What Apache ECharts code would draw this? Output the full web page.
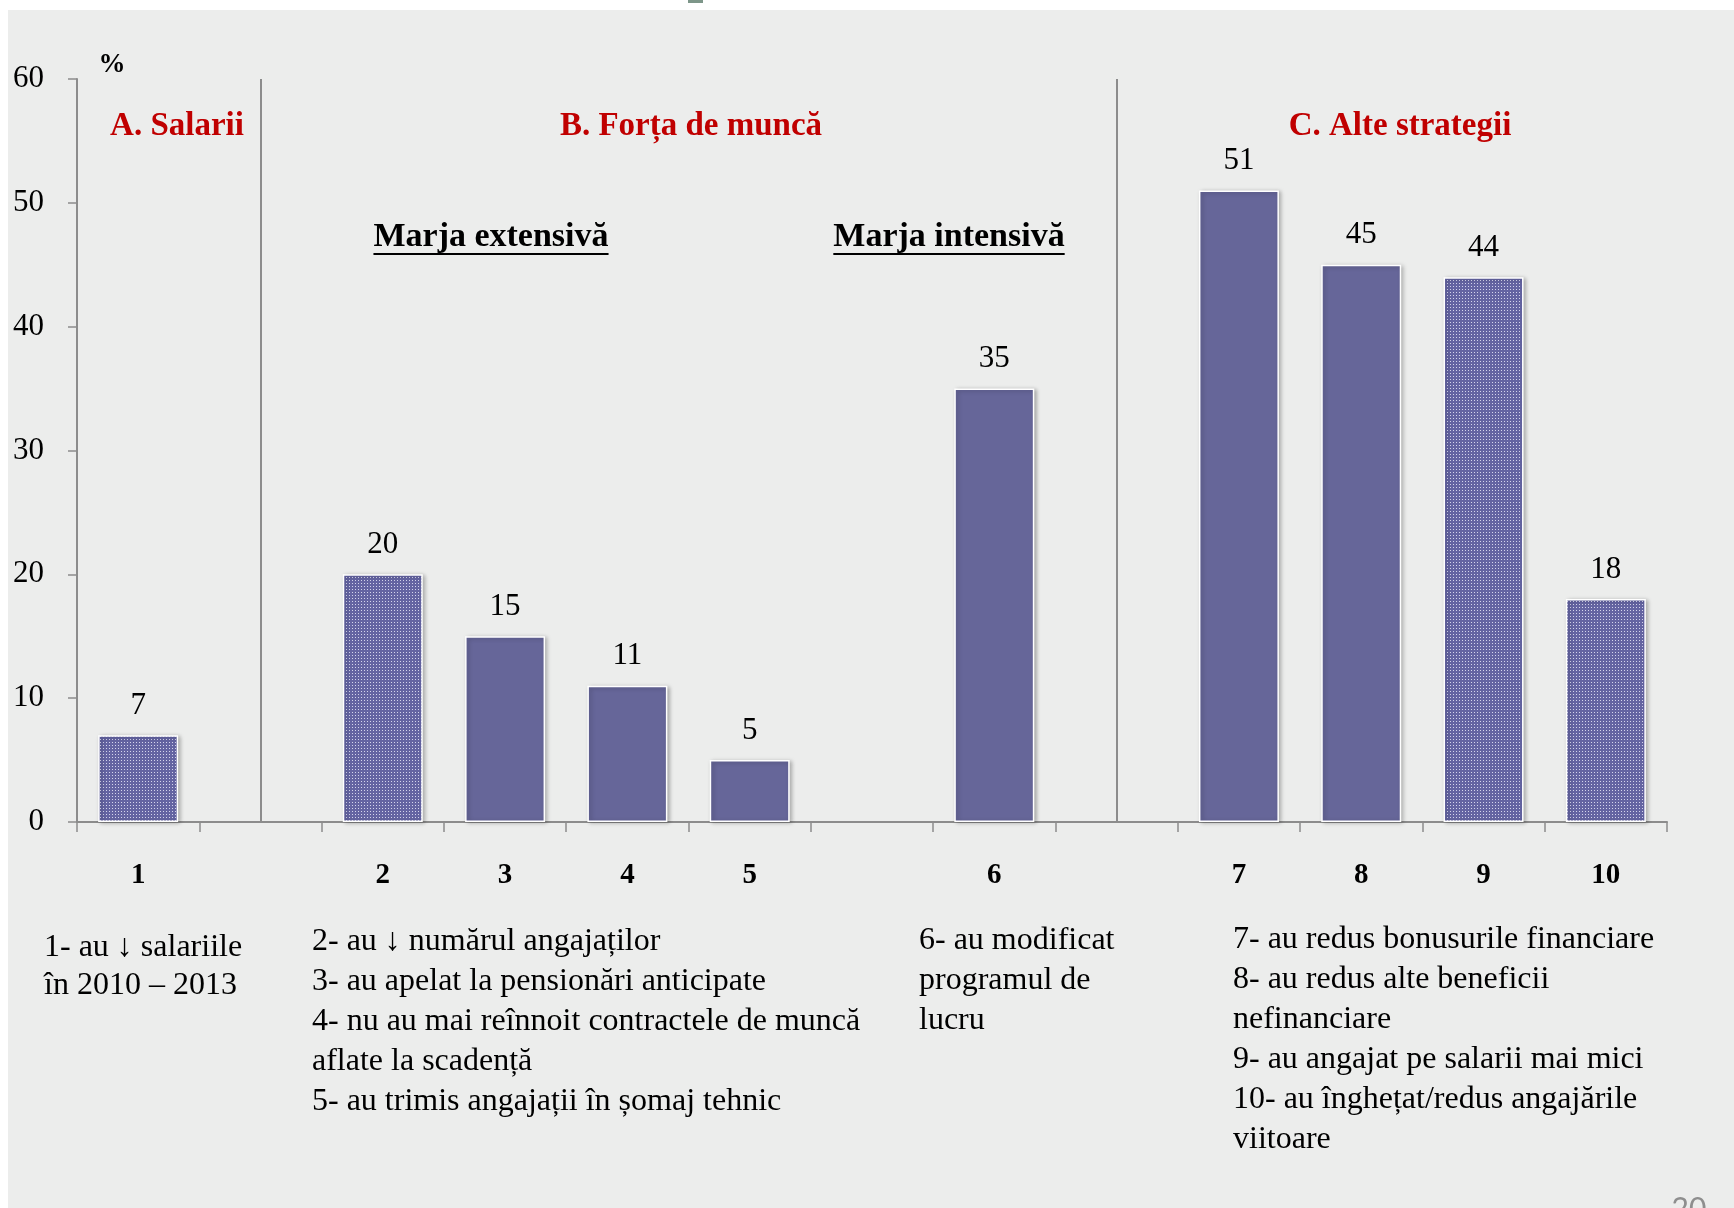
<!DOCTYPE html>
<html>
<head>
<meta charset="utf-8">
<script src="https://cdn.jsdelivr.net/npm/echarts@6/dist/echarts.min.js"></script>
<style>
  html, body { margin: 0; padding: 0; background: #ffffff; }
  #bg { position: absolute; left: 8px; top: 10px; right: 0; bottom: 0; background: #ECEDEC; }
  #chart { position: absolute; left: 0; top: 0; width: 1734px; height: 1208px; }
</style>
</head>
<body>
<div id="bg"></div>
<div id="chart"></div>
<script>
// Category slots along the x axis (empty slots separate the groups)
const categories = ['1', '', '2', '3', '4', '5', '', '6', '', '7', '8', '9', '10'];
// Share of firms (%) per strategy
const shares = [7, null, 20, 15, 11, 5, null, 35, null, 51, 45, 44, 18];
// Group headings
const sectionTitles = ['A. Salarii', 'B. Forța de muncă', 'C. Alte strategii'];
const marginTitles = ['Marja extensivă', 'Marja intensivă'];
// Legend notes, one list per column
const notesWages = ['1- au ↓ salariile', 'în 2010 – 2013'];
const notesExtensive = [
  '2- au ↓ numărul angajaților',
  '3- au apelat la pensionări anticipate',
  '4- nu au mai reînnoit contractele de muncă',
  'aflate la scadență',
  '5- au trimis angajații în șomaj tehnic'
];
const notesIntensive = ['6- au modificat', 'programul de', 'lucru'];
const notesOther = [
  '7- au redus bonusurile financiare',
  '8- au redus alte beneficii',
  'nefinanciare',
  '9- au angajat pe salarii mai mici',
  '10- au înghețat/redus angajările',
  'viitoare'
];

const SERIF = "'Liberation Serif', 'DejaVu Serif', serif";
const AXIS_GREY = '#8C8C8C';
const BAR_SOLID = '#666699';
const RED = '#C00000';
// bars drawn with a dotted fill
const dottedSlots = new Set(['1', '2', '9', '10']);

function dotPattern() {
  const c = document.createElement('canvas');
  c.width = 3; c.height = 3;
  const g = c.getContext('2d');
  g.fillStyle = '#6464A2';
  g.fillRect(0, 0, 3, 3);
  g.fillStyle = '#D4D4EC';
  g.fillRect(1, 1, 1, 1);
  return c;
}
const dotted = { image: dotPattern(), repeat: 'repeat' };

function textWidth(str, font) {
  const c = document.createElement('canvas').getContext('2d');
  c.font = font;
  return c.measureText(str).width;
}

const barData = shares.map((v, i) => ({
  value: v,
  itemStyle: { color: dottedSlots.has(categories[i]) ? dotted : BAR_SOLID }
}));

const graphics = [];

// "%" unit over the value axis
graphics.push({
  type: 'text', x: 112, y: 65,
  style: { text: '%', font: 'bold 27px ' + SERIF, fill: '#000', align: 'center', verticalAlign: 'middle' }
});

// Section headings
const titleX = [177, 691, 1400];
sectionTitles.forEach((t, i) => {
  graphics.push({
    type: 'text', x: titleX[i], y: 126,
    style: { text: t, font: 'bold 33px ' + SERIF, fill: RED, align: 'center', verticalAlign: 'middle' }
  });
});

// Underlined sub-headings
const marginX = [491, 949];
const marginFont = 'bold 34px ' + SERIF;
marginTitles.forEach((t, i) => {
  const w = textWidth(t, marginFont);
  graphics.push({
    type: 'text', x: marginX[i], y: 237,
    style: { text: t, font: marginFont, fill: '#000', align: 'center', verticalAlign: 'middle' }
  });
  graphics.push({
    type: 'line',
    shape: { x1: marginX[i] - w / 2, y1: 254, x2: marginX[i] + w / 2, y2: 254 },
    style: { stroke: '#000', lineWidth: 2 }
  });
});

// Notes under the axis
const noteFont = '32px ' + SERIF;
const noteCols = [
  { lines: notesWages, x: 44, y: 929, lh: 38 },
  { lines: notesExtensive, x: 312, y: 922, lh: 40 },
  { lines: notesIntensive, x: 919, y: 921, lh: 40 },
  { lines: notesOther, x: 1233, y: 920, lh: 40 }
];
noteCols.forEach(col => {
  graphics.push({
    type: 'text', x: col.x, y: col.y,
    style: {
      text: col.lines.join('\n'), font: noteFont, fill: '#000',
      lineHeight: col.lh, align: 'left', verticalAlign: 'top'
    }
  });
});

// Page number and small mark at the top edge
graphics.push({
  type: 'text', x: 1689, y: 1194,
  style: { text: '20', font: '30px Lato, sans-serif', fill: '#8E8E8E', align: 'center', verticalAlign: 'top' }
});
graphics.push({
  type: 'rect', shape: { x: 688, y: 0, width: 15, height: 3 },
  style: { fill: '#7D9689' }
});

const chart = echarts.init(document.getElementById('chart'), null, { renderer: 'canvas' });
chart.setOption({
  animation: false,
  backgroundColor: 'transparent',
  grid: { left: 77, right: 67, top: 79, bottom: 386, containLabel: false },
  xAxis: {
    type: 'category',
    data: categories,
    boundaryGap: true,
    axisLine: { show: true, lineStyle: { color: AXIS_GREY, width: 2 } },
    axisTick: { show: true, alignWithLabel: false, interval: 0, length: 10, lineStyle: { color: AXIS_GREY, width: 1.5 } },
    axisLabel: { interval: 0, margin: 39, fontFamily: SERIF, fontSize: 29, fontWeight: 'bold', color: '#000' },
    splitLine: { show: false }
  },
  yAxis: {
    type: 'value',
    min: 0, max: 60, interval: 10,
    axisLine: { show: true, lineStyle: { color: AXIS_GREY, width: 2 } },
    axisTick: { show: true, length: 9, lineStyle: { color: AXIS_GREY, width: 1.5 } },
    axisLabel: { margin: 33, fontFamily: SERIF, fontSize: 31, color: '#000' },
    splitLine: { show: false }
  },
  series: [{
    type: 'bar',
    data: barData,
    barWidth: 80,
    itemStyle: {
      borderColor: '#ffffff', borderWidth: 1.5,
      shadowColor: 'rgba(0,0,0,0.28)', shadowBlur: 4, shadowOffsetX: 2, shadowOffsetY: 1
    },
    label: {
      show: true, position: 'top', distance: 14,
      fontFamily: SERIF, fontSize: 31, color: '#000'
    },
    markLine: {
      silent: true,
      symbol: 'none',
      label: { show: false },
      lineStyle: { color: AXIS_GREY, width: 2, type: 'solid' },
      data: [{ xAxis: 1 }, { xAxis: 8 }]
    }
  }],
  graphic: graphics
});
</script>
</body>
</html>
